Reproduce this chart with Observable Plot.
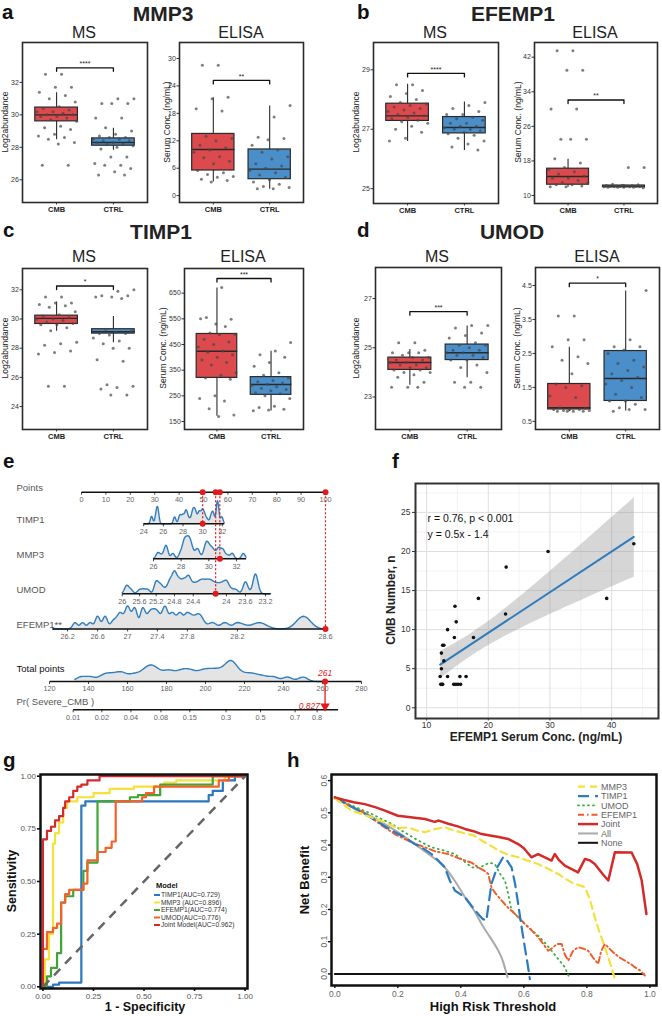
<!DOCTYPE html>
<html><head><meta charset="utf-8">
<script src="https://cdn.jsdelivr.net/npm/d3@7"></script>
<script src="https://cdn.jsdelivr.net/npm/@observablehq/plot@0.6"></script>
<style>
html,body{margin:0;padding:0;background:#fff;}
#root{position:relative;width:662px;height:1016px;overflow:hidden;background:#fff;}
#root svg{position:absolute;overflow:visible;}
</style></head><body><div id="root"></div>
<script>
const FONT = '"Liberation Sans", Arial, Helvetica, sans-serif';
const NARROW = '"Liberation Sans Narrow", "Liberation Sans", Arial, sans-serif';
const root = document.getElementById("root");

// ================= DATA =================
const groups = ["CMB", "CTRL"];
const groupColors = ["#dd4a4e", "#4b8fca"];

// box stats: [lower whisker, Q1, median, Q3, upper whisker]
const mmp3MsCMB = [32.5,32.5,31.7,31.7,31.4,31.2,31.0,30.8,30.5,30.4,30.3,30.2,30.2,30.1,30.0,30.0,29.9,29.9,29.8,29.7,29.6,29.3,29.2,29.1,28.8,28.7,28.6,28.5,28.3,28.2,26.9,26.9];
const mmp3MsCTRL = [31.0,31.0,30.7,30.7,30.7,29.8,29.8,29.2,29.0,28.8,28.7,28.6,28.6,28.5,28.5,28.4,28.4,28.3,28.3,28.2,28.2,28.1,28.0,27.9,27.4,27.4,27.0,26.9,26.9,26.7,26.5,26.3,26.3];
const mmp3MsBox = [[28.5,29.6,30.0,30.45,31.4],[27.85,28.1,28.3,28.55,29.2]];
const mmp3ElisaCMB = [28.5,28.5,21.5,21.2,19.0,18.5,13.0,12.5,12.0,11.0,10.5,10.0,9.5,8.5,8.3,7.5,7.0,5.5,5.0,4.6,4.2,4.0,3.6,3.3,3.0];
const mmp3ElisaCTRL = [19.7,17.2,12.8,12.5,12.2,11.0,10.0,9.5,8.5,8.0,7.0,6.5,6.0,5.5,5.0,4.5,4.0,3.5,3.0,2.5,2.0,1.8,1.5,1.5];
const mmp3ElisaBox = [[3.1,5.5,10.1,13.5,21.5],[1.5,3.6,5.8,10.1,19.7]];

const efempMsCMB = [28.5,28.5,28.3,28.2,28.1,28.0,27.9,27.85,27.8,27.75,27.7,27.65,27.6,27.55,27.5,27.45,27.4,27.35,27.3,27.25,27.2,27.1,27.0,26.9,26.7,26.6];
const efempMsCTRL = [27.9,27.8,27.7,27.6,27.5,27.5,27.4,27.35,27.3,27.2,27.2,27.1,27.1,27.05,27.0,27.0,26.95,26.9,26.85,26.8,26.7,26.6,26.5,26.4,26.3];
const efempMsBox = [[26.6,27.28,27.45,27.86,28.53],[26.3,26.86,27.06,27.41,27.93]];
const efempElisaCMB = [43.5,43.5,39,39,30,30,23,23,23,18.5,17.5,16.5,16,15.5,15,14.5,14,14,13.5,13,13,12.5,12.5,12.2,12,12];
const efempElisaCTRL = [16.5,16.5,12.6,12.5,12.4,12.3,12.3,12.2,12.2,12.2,12.1,12.1,12.1,12.0,12.0,12.0,12.0,11.9,11.9,11.9,11.9,11.8];
const efempElisaBox = [[12,12.5,14.4,16.2,18.5],[11.8,11.95,12.1,12.3,12.6]];

const timpMsCMB = [31.5,31.5,31.1,31.1,31.0,30.9,30.8,30.5,30.3,30.2,30.1,30.0,30.0,29.9,29.8,29.7,29.6,29.6,29.4,29.2,28.4,28.3,28.2,27.8,27.7,27.6,25.4,25.4];
const timpMsCTRL = [32.0,31.9,31.6,31.6,31.5,31.5,31.4,29.3,29.2,29.1,29.0,29.0,28.9,28.7,28.5,28.3,28.0,28.0,27.2,27.1,25.5,25.4,25.3,25.2,24.8,24.8];
const timpMsBox = [[29.2,29.66,30.04,30.23,31.2],[28.4,29.0,29.13,29.3,30.2]];
const timpElisaCMB = [672,555,548,530,550,520,495,490,488,470,460,450,440,425,420,410,400,390,380,370,340,330,320,315,250,240,230,200,175,170];
const timpElisaCTRL = [458,425,410,400,380,365,340,330,320,310,305,300,295,290,285,280,275,270,262,258,250,240,210,205,198,195,192];
const timpElisaBox = [[173,320,424,491,672],[193,254,294,323,426]];

const umodMsCMB = [25.2,25.2,24.9,24.8,24.8,24.8,24.7,24.6,24.6,24.5,24.5,24.4,24.4,24.3,24.3,24.2,24.2,24.1,24.1,24.0,24.0,23.9,23.8,23.6,23.4,23.4,23.4];
const umodMsCTRL = [25.9,25.9,25.8,25.6,25.5,25.4,25.2,25.1,25.1,25.0,24.9,24.9,24.8,24.8,24.7,24.7,24.6,24.5,24.5,24.3,24.2,24.0,23.6,23.6,23.4,23.4];
const umodMsBox = [[23.5,24.1,24.4,24.6,24.95],[23.8,24.5,24.8,25.13,25.9]];
const umodElisaCMB = [3.6,3.6,2.9,2.9,2.7,2.4,2.3,2.2,1.9,1.6,1.55,1.5,1.25,1.2,0.9,0.88,0.85,0.85,0.85,0.82,0.82,0.8,0.8,0.8,0.8];
const umodElisaCTRL = [4.35,2.9,2.7,2.7,2.6,2.5,2.3,2.2,2.1,2.0,1.9,1.8,1.7,1.6,1.5,1.3,1.2,1.1,1.1,1.0,0.9,0.85,0.85,0.8];
const umodElisaBox = [[0.8,0.85,0.9,1.6,2.7],[0.82,1.1,1.76,2.57,4.35]];

// significance: bracket height and label
const sigBracket = {mmp3Ms:32.9, mmp3Elisa:25.2, efempMs:28.88, efempElisa:32.1, timpMs:32.26, timpElisa:707, umodMs:26.47, umodElisa:4.57};
const sigStars = {mmp3Ms:"****", mmp3Elisa:"**", efempMs:"****", efempElisa:"**", timpMs:"*", timpElisa:"***", umodMs:"***", umodElisa:"*"};

// nomogram
const nomoNames = ["TIMP1", "MMP3", "UMOD", "EFEMP1**"];
const nomoTicks = [[24,26,28,30,32],[26,28,30,32],[26,25.6,25.2,24.8,24.4,24,23.6,23.2],[26.2,26.6,27,27.4,27.8,28.2,28.6]];
const nomoRange = [[24,32.2],[26,32.7],[26,23.1],[26.0,28.6]];
const nomoKnotValues = [[24,32],[26,32],[26,25.6,25.2,24.8,24.4,24,23.6,23.2],[26.2,26.6,27,27.4,27.8,28.2,28.6]];
const nomoKnotPoints = [[25.5,57.7],[29.5,63.5],[16.7,23.8,30.6,38.1,45.8,59.4,67.2,75.4],[-5.7,6.6,18.9,31.1,43.4,63.9,100]];
const nomoBandwidth = [0.12, 0.13, 0.05, 0.032];
const nomoSelected = [30, 30.8, 24.13, 28.6];
const pointsTicks = [0,10,20,30,40,50,60,70,80,90,100];
const totalTicks = [120,140,160,180,200,220,240,260,280];
const totalRefValue = 120, totalRefPoints = -13.1, totalPerUnit = 0.799;
const probTicks = [0.01,0.02,0.04,0.08,0.15,0.3,0.5,0.7,0.8];
const probRange = [0.01, 0.87];
const lpIntercept = -10.91, lpSlope = 0.0478;
const predictedProb = 0.827;
const totalPointsSample = [136,141,147,150,153,156,158,162,165,168,170,171,173,174,176,179,181,183,186,188,190,192,194,197,199,201,203,205,207,209,211,212,213,214,215,217,220,223,226,230,235,242,250];

// scatter f
const efempConc = [43.6,29.7,22.9,18.4,14.6,39.2,22.8,14.8,13.4,14.5,17.6,12.6,12.8,12.4,12.8,12.4,12.2,13.4,15.4,16.4,12.3,12.5,12.6,14.4,14.75,15.1,15.5];
const cmbNumber = [21,20,18,14,13,14,12,11,10,9,9,8,8,7,6,5,4,4,4,4,3,3,3,3,3,3,3];

// ROC g  [FPR, TPR]
const rocTIMP1 = [[0,0],[0.05,0],[0.05,0.01],[0.08,0.01],[0.08,0.02],[0.19,0.02],[0.19,0.86],[0.21,0.86],[0.21,0.88],[0.82,0.88],[0.82,0.91],[0.84,0.91],[0.84,0.93],[0.89,0.93],[0.89,0.98],[0.95,0.98],[0.95,1],[1,1]];
const rocMMP3 = [[0,0],[0.01,0],[0.01,0.13],[0.03,0.13],[0.03,0.25],[0.05,0.25],[0.05,0.68],[0.06,0.68],[0.06,0.73],[0.08,0.73],[0.08,0.78],[0.1,0.78],[0.1,0.85],[0.12,0.85],[0.12,0.88],[0.17,0.88],[0.17,0.9],[0.25,0.9],[0.25,0.92],[0.33,0.92],[0.33,0.94],[0.45,0.94],[0.45,0.95],[0.6,0.95],[0.6,0.97],[0.66,0.97],[0.66,0.98],[0.9,0.98],[0.9,1],[1,1]];
const rocEFEMP1 = [[0,0],[0.02,0],[0.02,0.05],[0.04,0.05],[0.04,0.09],[0.07,0.09],[0.07,0.16],[0.09,0.16],[0.09,0.4],[0.11,0.4],[0.11,0.43],[0.15,0.43],[0.15,0.46],[0.2,0.46],[0.2,0.55],[0.22,0.55],[0.22,0.59],[0.27,0.59],[0.27,0.88],[0.43,0.88],[0.43,0.9],[0.47,0.9],[0.47,0.91],[0.58,0.91],[0.58,0.96],[0.84,0.96],[0.84,1],[1,1]];
const rocUMOD = [[0,0],[0,0.18],[0.02,0.18],[0.02,0.26],[0.05,0.26],[0.05,0.28],[0.07,0.28],[0.07,0.3],[0.09,0.3],[0.09,0.4],[0.11,0.4],[0.11,0.44],[0.13,0.44],[0.13,0.46],[0.2,0.46],[0.2,0.49],[0.22,0.49],[0.22,0.6],[0.27,0.6],[0.27,0.64],[0.31,0.64],[0.31,0.66],[0.34,0.66],[0.34,0.69],[0.36,0.69],[0.36,0.88],[0.49,0.88],[0.49,0.9],[0.51,0.9],[0.51,0.92],[0.55,0.92],[0.55,0.95],[0.87,0.95],[0.87,0.98],[0.92,0.98],[0.92,1],[1,1]];
const rocJoint = [[0,0],[0,0.7],[0.02,0.7],[0.02,0.74],[0.04,0.74],[0.04,0.76],[0.06,0.76],[0.06,0.79],[0.08,0.79],[0.08,0.81],[0.1,0.81],[0.1,0.85],[0.11,0.85],[0.11,0.88],[0.13,0.88],[0.13,0.9],[0.15,0.9],[0.15,0.93],[0.17,0.93],[0.17,0.95],[0.19,0.95],[0.19,0.96],[0.22,0.96],[0.22,0.98],[0.28,0.98],[0.28,1],[1,1]];
const rocLabels = ["TIMP1(AUC=0.729)", "MMP3 (AUC=0.896)", "EFEMP1(AUC=0.774)", "UMOD(AUC=0.776)", "Joint Model(AUC=0.962)"];
const rocColors = ["#2b77c0", "#f3e23c", "#3fa535", "#f4622a", "#d7282b"];

// DCA h  [threshold, net benefit]
const dcaMMP3 = [[0,0.545],[0.053,0.507],[0.116,0.486],[0.16,0.47],[0.2,0.452],[0.233,0.455],[0.26,0.445],[0.286,0.44],[0.32,0.45],[0.349,0.455],[0.38,0.445],[0.413,0.436],[0.44,0.43],[0.466,0.414],[0.5,0.395],[0.519,0.383],[0.55,0.37],[0.582,0.362],[0.61,0.352],[0.645,0.341],[0.68,0.325],[0.709,0.31],[0.751,0.284],[0.794,0.269],[0.81,0.23],[0.825,0.176],[0.84,0.13],[0.857,0.083],[0.875,0.03],[0.889,-0.016]];
const dcaTIMP1 = [[0,0.548],[0.05,0.52],[0.095,0.497],[0.14,0.47],[0.18,0.445],[0.22,0.425],[0.254,0.403],[0.28,0.39],[0.307,0.372],[0.33,0.35],[0.349,0.331],[0.365,0.29],[0.381,0.259],[0.413,0.238],[0.435,0.21],[0.455,0.186],[0.47,0.17],[0.481,0.166],[0.49,0.23],[0.497,0.279],[0.515,0.33],[0.534,0.362],[0.548,0.35],[0.561,0.331],[0.572,0.28],[0.582,0.217],[0.592,0.15],[0.603,0.083],[0.612,0.03],[0.619,-0.016]];
const dcaUMOD = [[0,0.545],[0.06,0.52],[0.116,0.497],[0.15,0.48],[0.18,0.466],[0.22,0.44],[0.265,0.414],[0.307,0.393],[0.34,0.385],[0.381,0.372],[0.41,0.35],[0.434,0.331],[0.46,0.33],[0.49,0.345],[0.508,0.341],[0.525,0.31],[0.54,0.29],[0.55,0.25],[0.56,0.2],[0.572,0.186],[0.593,0.166],[0.62,0.14],[0.645,0.119],[0.668,0.095],[0.688,0.072],[0.71,0.045],[0.73,0.021],[0.746,-0.016]];
const dcaEFEMP1 = [[0,0.545],[0.05,0.52],[0.1,0.497],[0.15,0.46],[0.19,0.434],[0.24,0.41],[0.286,0.393],[0.32,0.38],[0.36,0.372],[0.39,0.36],[0.413,0.352],[0.435,0.345],[0.455,0.331],[0.475,0.32],[0.487,0.31],[0.497,0.269],[0.51,0.25],[0.529,0.228],[0.55,0.205],[0.572,0.186],[0.603,0.155],[0.625,0.135],[0.645,0.114],[0.66,0.095],[0.677,0.072],[0.69,0.08],[0.705,0.093],[0.72,0.093],[0.73,0.06],[0.741,0.041],[0.755,0.07],[0.772,0.083],[0.79,0.078],[0.804,0.072],[0.82,0.05],[0.836,0.031],[0.845,0.07],[0.857,0.093],[0.87,0.08],[0.889,0.062],[0.905,0.05],[0.921,0.041],[0.94,0.03],[0.952,0.021],[0.97,0.01],[0.984,-0.005]];
const dcaJoint = [[0,0.548],[0.03,0.54],[0.06,0.533],[0.095,0.527],[0.13,0.517],[0.159,0.507],[0.2,0.491],[0.24,0.486],[0.286,0.481],[0.317,0.472],[0.33,0.476],[0.36,0.466],[0.39,0.458],[0.413,0.45],[0.44,0.443],[0.466,0.434],[0.497,0.429],[0.52,0.425],[0.55,0.419],[0.582,0.403],[0.6,0.39],[0.624,0.362],[0.645,0.372],[0.66,0.365],[0.688,0.352],[0.698,0.372],[0.71,0.355],[0.73,0.336],[0.772,0.315],[0.794,0.357],[0.81,0.352],[0.825,0.341],[0.85,0.31],[0.868,0.29],[0.889,0.378],[0.942,0.377],[0.96,0.34],[0.974,0.29],[0.989,0.186]];
const dcaAll = [[0,0.547],[0.1,0.497],[0.2,0.44],[0.3,0.37],[0.339,0.341],[0.38,0.29],[0.413,0.238],[0.44,0.2],[0.466,0.155],[0.49,0.118],[0.519,0.072],[0.535,0.035],[0.548,-0.01]];
const dcaNone = [[0,0],[0.98,0]];
const dcaLabels = ["MMP3","TIMP1","UMOD","EFEMP1","Joint","All","None"];

// ================= HELPERS =================
function place(svg, left, top) {
  svg.style.position = "absolute";
  svg.style.left = left + "px";
  svg.style.top = top + "px";
  root.appendChild(svg);
  return svg;
}
const jitter = (i, g) => ((((i + 1) * 0.6180339887 + g * 0.37) % 1) - 0.5) * 0.74;
function axisStyle(svg, which, attrs) {
  const sel = d3.select(svg).selectAll(`g[aria-label^="${which}-axis"]`);
  if (attrs.text) sel.selectAll("text").each(function(){ for (const k in attrs.text) this.setAttribute(k, attrs.text[k]); });
  if (attrs.tick) sel.selectAll("line, path").each(function(){ for (const k in attrs.tick) this.setAttribute(k, attrs.tick[k]); });
}

function boxPlot(o) {
  const mL = 26, mB = 16, mR = 2, mT = 2;
  const rows = o.box.map((b, i) => ({x: i + 1, lo: b[0], q1: b[1], med: b[2], q3: b[3], hi: b[4], fill: groupColors[i]}));
  const pts = [];
  [o.cmb, o.ctrl].forEach((arr, g) => arr.forEach((v, i) => pts.push({x: g + 1 + jitter(i, g), v})));
  const leg = (o.yDomain[1] - o.yDomain[0]) * 0.022;
  const br = [{x: 1, y: o.bracket - leg}, {x: 1, y: o.bracket}, {x: 2, y: o.bracket}, {x: 2, y: o.bracket - leg}];
  const svg = Plot.plot({
    width: mL + o.w + mR, height: mT + o.h + mB,
    marginLeft: mL, marginRight: mR, marginTop: mT, marginBottom: mB,
    style: {fontFamily: FONT, fontSize: "7px", color: "#333", background: "transparent", overflow: "visible"},
    x: {domain: [0.4, 2.6], ticks: [1, 2], tickFormat: d => groups[d - 1], tickSize: 2.5, tickPadding: 2, label: null},
    y: {domain: o.yDomain, ticks: o.yTicks, tickFormat: d => String(d), tickSize: 2.5, tickPadding: 1.2, label: null},
    color: {type: "identity"},
    marks: [
      Plot.link(rows, {x1: "x", x2: "x", y1: "lo", y2: "hi", stroke: "#2a2a2a", strokeWidth: 1.1}),
      Plot.rect(rows, {x1: d => d.x - 0.375, x2: d => d.x + 0.375, y1: "q1", y2: "q3", fill: "fill", stroke: "#2a2a2a", strokeWidth: 1.2}),
      Plot.link(rows, {x1: d => d.x - 0.375, x2: d => d.x + 0.375, y1: "med", y2: "med", stroke: "#2a2a2a", strokeWidth: 1.4}),
      Plot.dot(pts, {x: "x", y: "v", r: 1.5, fill: "#474747", fillOpacity: 0.7}),
      Plot.line(br, {x: "x", y: "y", stroke: "#111", strokeWidth: 1.3}),
      Plot.text([o.stars], {x: () => 1.5, y: () => o.bracket, text: d => d, dy: -4, fontSize: 7, fill: "#222"}),
      Plot.frame({stroke: "#2a2a2a", strokeWidth: 1.6})
    ]
  });
  axisStyle(svg, "x", {text: {"font-weight": "bold", "fill": "#222", "font-size": "7.5px"}});
  place(svg, o.left - mL, o.top - mT);
}

// ================= PANELS a–d =================
boxPlot({left: 22, top: 42, w: 125, h: 160, yDomain: [24.6, 34.46], yTicks: [26,28,30,32], box: mmp3MsBox, cmb: mmp3MsCMB, ctrl: mmp3MsCTRL, bracket: sigBracket.mmp3Ms, stars: sigStars.mmp3Ms});
boxPlot({left: 179, top: 42, w: 124, h: 160, yDomain: [-1.5, 33.5], yTicks: [0,6,12,18,24,30], box: mmp3ElisaBox, cmb: mmp3ElisaCMB, ctrl: mmp3ElisaCTRL, bracket: sigBracket.mmp3Elisa, stars: sigStars.mmp3Elisa});
boxPlot({left: 373, top: 42, w: 125, h: 161, yDomain: [24.5, 29.92], yTicks: [25,27,29], box: efempMsBox, cmb: efempMsCMB, ctrl: efempMsCTRL, bracket: sigBracket.efempMs, stars: sigStars.efempMs});
boxPlot({left: 534, top: 42, w: 123, h: 161, yDomain: [8.15, 45.4], yTicks: [10,18,26,34,42], box: efempElisaBox, cmb: efempElisaCMB, ctrl: efempElisaCTRL, bracket: sigBracket.efempElisa, stars: sigStars.efempElisa});
boxPlot({left: 22, top: 268, w: 125, h: 161, yDomain: [22.43, 33.46], yTicks: [24,26,28,30,32], box: timpMsBox, cmb: timpMsCMB, ctrl: timpMsCTRL, bracket: sigBracket.timpMs, stars: sigStars.timpMs});
boxPlot({left: 184, top: 268, w: 119, h: 161, yDomain: [119, 746], yTicks: [150,250,350,450,550,650], box: timpElisaBox, cmb: timpElisaCMB, ctrl: timpElisaCTRL, bracket: sigBracket.timpElisa, stars: sigStars.timpElisa});
boxPlot({left: 375, top: 267, w: 126, h: 162, yDomain: [21.68, 28.26], yTicks: [23,25,27], box: umodMsBox, cmb: umodMsCMB, ctrl: umodMsCTRL, bracket: sigBracket.umodMs, stars: sigStars.umodMs});
boxPlot({left: 535, top: 267, w: 124, h: 162, yDomain: [0.26, 5.03], yTicks: [0.5,1.5,2.5,3.5,4.5], box: umodElisaBox, cmb: umodElisaCMB, ctrl: umodElisaCTRL, bracket: sigBracket.umodElisa, stars: sigStars.umodElisa});

// ================= PANEL e: nomogram =================
(function(){
  const rowPoints = 21.7, rowVars = [53.3, 88.3, 123.3, 158.5], rowTotal = 211, rowProb = 239.3;
  const varScales = nomoKnotValues.map((v, k) => d3.scaleLinear().domain(v).range(nomoKnotPoints[k]));
  const varPts = (k, v) => varScales[k](v);
  const totPts = t => totalRefPoints + (t - totalRefValue) * totalPerUnit;
  const logit = p => Math.log(p / (1 - p));
  const probTotal = p => (logit(p) - lpIntercept) / lpSlope;
  const kde = (vals, bw, lo, hi) => d3.range(241).map(k => {
    const x = lo + (hi - lo) * k / 240;
    return [x, d3.sum(vals, v => Math.exp(-0.5 * ((x - v) / bw) ** 2))];
  });
  const msSamples = [timpMsCMB.concat(timpMsCTRL), mmp3MsCMB.concat(mmp3MsCTRL), umodMsCMB.concat(umodMsCTRL), efempMsCMB.concat(efempMsCTRL)];

  const axes = [], ticks = [], dens = [], labels = [];
  labels.push({y: rowPoints - 4, text: "Points", style: "italic", weight: "normal", fill: "#555"});
  axes.push({x1: 0, x2: 100, y: rowPoints});
  pointsTicks.forEach(t => ticks.push({p: t, y: rowPoints, label: String(t)}));
  nomoNames.forEach((n, k) => {
    const y = rowVars[k];
    labels.push({y: y - 4, text: n, style: "normal", weight: "normal", fill: "#555"});
    axes.push({x1: varPts(k, nomoRange[k][0]), x2: varPts(k, nomoRange[k][1]), y});
    nomoTicks[k].forEach(t => ticks.push({p: varPts(k, t), y, label: String(t)}));
    const lo = Math.min(...nomoRange[k]), hi = Math.max(...nomoRange[k]);
    const d = kde(msSamples[k], nomoBandwidth[k], lo, hi);
    const mx = d3.max(d, e => e[1]);
    d.forEach(e => dens.push({row: n, p: varPts(k, e[0]), y0: y, y1: y - 23 * e[1] / mx}));
  });
  labels.push({y: rowTotal - 13, text: "Total points", style: "italic", weight: "bold", fill: "#111"});
  axes.push({x1: totPts(totalTicks[0]), x2: totPts(totalTicks[totalTicks.length - 1]), y: rowTotal});
  totalTicks.forEach(t => ticks.push({p: totPts(t), y: rowTotal, label: String(t)}));
  {
    const d = kde(totalPointsSample, 2.4, 133, 262);
    const mx = d3.max(d, e => e[1]);
    d.forEach(e => dens.push({row: "total", p: totPts(e[0]), y0: rowTotal, y1: rowTotal - 21 * e[1] / mx}));
  }
  labels.push({y: rowProb - 7.5, text: "Pr( Severe_CMB )", style: "italic", weight: "normal", fill: "#555"});
  axes.push({x1: totPts(probTotal(probRange[0])), x2: totPts(probTotal(probRange[1])), y: rowProb});
  probTicks.forEach(t => ticks.push({p: totPts(probTotal(t)), y: rowProb, label: String(t)}));

  const selPts = nomoSelected.map((v, k) => varPts(k, v));
  const total = d3.sum(selPts);
  const redPts = selPts.map(p => ({p, y: rowPoints}));
  const redVar = nomoSelected.map((v, k) => ({p: varPts(k, v), y: rowVars[k]}));
  const drops = nomoSelected.map((v, k) => ({p: varPts(k, v), y1: rowPoints, y2: rowVars[k]}));
  const tp = totPts(total);

  const svg = Plot.plot({
    width: 362, height: 260, marginLeft: 81, marginRight: 37, marginTop: 0, marginBottom: 0,
    style: {fontFamily: FONT, background: "transparent", overflow: "visible"},
    x: {domain: [0, 100], axis: null},
    y: {domain: [0, 260], range: [0, 260], axis: null},
    marks: [
      Plot.areaY(dens, {x: "p", y1: "y0", y2: "y1", z: "row", fill: "#e4e4e4"}),
      Plot.line(dens, {x: "p", y: "y1", z: "row", stroke: "#2f7fc0", strokeWidth: 1.4}),
      Plot.link(axes, {x1: "x1", x2: "x2", y1: "y", y2: "y", stroke: "#111", strokeWidth: 1.6}),
      Plot.link(ticks, {x1: "p", x2: "p", y1: "y", y2: d => d.y + 2.5, stroke: "#111", strokeWidth: 0.8}),
      Plot.text(ticks, {x: "p", y: "y", dy: 7.5, text: "label", fontSize: 7.3, fontFamily: NARROW, fill: "#666"}),
      Plot.text(labels, {frameAnchor: "left", dx: -65, y: "y", text: "text", textAnchor: "start", fontSize: 9.5, fontStyle: d => d.style, fontWeight: d => d.weight, fill: d => d.fill}),
      Plot.link(drops, {x1: "p", x2: "p", y1: "y1", y2: "y2", stroke: "#e31a1c", strokeWidth: 1.2, strokeDasharray: "2,2"}),
      Plot.dot(redPts, {x: "p", y: "y", r: 3, fill: "#e31a1c"}),
      Plot.dot(redVar, {x: "p", y: "y", r: 3, fill: "#e31a1c"}),
      Plot.link([tp], {x1: d => d, x2: d => d, y1: () => rowTotal, y2: () => rowProb - 4, stroke: "#e31a1c", strokeWidth: 1.3}),
      Plot.dot([tp], {x: d => d, y: () => rowTotal, r: 3, fill: "#e31a1c"}),
      Plot.dot([tp], {x: d => d, y: () => rowProb - 3.5, r: 3.5, symbol: "triangle", rotate: 180, fill: "#e31a1c"}),
      Plot.text([tp], {x: d => d, y: () => rowTotal, dy: -8, text: () => String(Math.round(total)), fill: "#e31a1c", fontSize: 8.5, fontStyle: "italic"}),
      Plot.text([tp], {x: d => d, y: () => rowProb - 4, dx: -5, text: () => String(predictedProb), textAnchor: "end", fill: "#e31a1c", fontSize: 8.5, fontStyle: "italic"})
    ]
  });
  place(svg, 0, 470);
})();

// ================= PANEL f: scatter =================
(function(){
  const mL = 30, mB = 30, mR = 4;
  const pts = efempConc.map((x, i) => ({x, y: cmbNumber[i]}));
  const svg = Plot.plot({
    width: mL + 243 + mR, height: 235 + mB, marginLeft: mL, marginRight: mR, marginTop: 0, marginBottom: mB,
    style: {fontFamily: FONT, fontSize: "8.5px", color: "#333", background: "transparent", overflow: "visible"},
    x: {domain: [8.2, 47.6], ticks: [10,20,30,40], tickSize: 2.5, tickPadding: 1, label: null},
    y: {domain: [-1.37, 28.7], ticks: [0,5,10,15,20,25], tickSize: 3, tickPadding: 2, label: null},
    marks: [
      Plot.ruleX([15,25,35,45], {stroke: "#f0f0f0", strokeWidth: 0.8}),
      Plot.ruleY([2.5,7.5,12.5,17.5,22.5,27.5], {stroke: "#f0f0f0", strokeWidth: 0.8}),
      Plot.ruleX([10,20,30,40], {stroke: "#dedede", strokeWidth: 1}),
      Plot.ruleY([0,5,10,15,20,25], {stroke: "#dedede", strokeWidth: 1}),
      Plot.linearRegressionY(pts, {x: "x", y: "y", stroke: "#2e7cbd", strokeWidth: 2, fill: "#999", fillOpacity: 0.4, ci: 0.95}),
      Plot.dot(pts, {x: "x", y: "y", r: 1.8, fill: "#111"}),
      Plot.text(["r = 0.76, p < 0.001"], {frameAnchor: "top-left", dx: 12, dy: 31, text: d => d, textAnchor: "start", fontSize: 10.5, fill: "#111"}),
      Plot.text(["y = 0.5x - 1.4"], {frameAnchor: "top-left", dx: 12, dy: 47, text: d => d, textAnchor: "start", fontSize: 10.5, fill: "#111"}),
      Plot.frame({stroke: "#333", strokeWidth: 2})
    ]
  });
  place(svg, 415 - mL, 483);
})();

// ================= PANEL g: ROC =================
(function(){
  const mL = 24, mB = 16, mR = 4;
  const curves = [rocTIMP1, rocMMP3, rocEFEMP1, rocUMOD, rocJoint];
  const svg = Plot.plot({
    width: mL + 207 + mR, height: 214 + mB, marginLeft: mL, marginRight: mR, marginTop: 0, marginBottom: mB,
    style: {fontFamily: FONT, fontSize: "8px", color: "#111", background: "transparent", overflow: "visible"},
    x: {domain: [-0.012, 1.012], ticks: [0,0.25,0.5,0.75,1], tickFormat: ".2f", tickSize: 3, tickPadding: 2, label: null},
    y: {domain: [-0.008, 1.008], ticks: [0,0.25,0.5,0.75,1], tickFormat: ".2f", tickSize: 3, tickPadding: 1.5, label: null},
    marks: [
      ...curves.map((c, i) => Plot.line(c, {x: d => d[0], y: d => d[1], stroke: rocColors[i], strokeWidth: 2.2})),
      Plot.link([1], {x1: () => 0, y1: () => 0, x2: () => 1, y2: () => 1, stroke: "#666", strokeWidth: 2.5, strokeDasharray: "9,7"}),
      Plot.frame({stroke: "#111", strokeWidth: 2.5})
    ]
  });
  axisStyle(svg, "x", {text: {fill: "#555"}, tick: {"stroke-width": 1.6}});
  axisStyle(svg, "y", {text: {fill: "#555"}, tick: {"stroke-width": 1.6}});
  place(svg, 40 - mL, 774);
})();

// ================= PANEL h: DCA =================
(function(){
  const mL = 26, mB = 16, mR = 4;
  const svg = Plot.plot({
    width: mL + 325 + mR, height: 211 + mB, marginLeft: mL, marginRight: mR, marginTop: 0, marginBottom: mB,
    style: {fontFamily: FONT, fontSize: "8.5px", color: "#111", background: "transparent", overflow: "visible"},
    x: {domain: [-0.0106, 1.021], ticks: [0,0.2,0.4,0.6,0.8,1], tickFormat: ".1f", tickSize: 3, tickPadding: 2, label: null},
    y: {domain: [-0.036, 0.619], ticks: [0,0.1,0.2,0.3,0.4,0.5,0.6], tickFormat: ".1f", tickSize: 3, tickPadding: 2, tickRotate: -90, label: null},
    marks: [
      Plot.line(dcaNone, {x: d => d[0], y: d => d[1], stroke: "#111", strokeWidth: 2}),
      Plot.line(dcaAll, {x: d => d[0], y: d => d[1], stroke: "#aaaaaa", strokeWidth: 2, curve: "natural"}),
      Plot.line(dcaUMOD, {x: d => d[0], y: d => d[1], stroke: "#3cae3c", strokeWidth: 1.8, strokeDasharray: "1,4", strokeLinecap: "round"}),
      Plot.line(dcaEFEMP1, {x: d => d[0], y: d => d[1], stroke: "#f15a29", strokeWidth: 1.9, strokeDasharray: "6,3,1.5,3"}),
      Plot.line(dcaTIMP1, {x: d => d[0], y: d => d[1], stroke: "#2b7bbf", strokeWidth: 2.2, strokeDasharray: "11,6"}),
      Plot.line(dcaMMP3, {x: d => d[0], y: d => d[1], stroke: "#f3e03b", strokeWidth: 2.2, strokeDasharray: "7,5"}),
      Plot.line(dcaJoint, {x: d => d[0], y: d => d[1], stroke: "#d42a2a", strokeWidth: 2.5}),
      Plot.frame({stroke: "#111", strokeWidth: 2.5})
    ]
  });
  axisStyle(svg, "x", {text: {fill: "#666"}, tick: {"stroke-width": 1.4}});
  axisStyle(svg, "y", {text: {fill: "#666"}, tick: {"stroke-width": 1.4}});
  place(svg, 331 - mL, 774);
})();

// ================= overlay texts & legends =================
const ov = d3.create("svg").attr("width", 662).attr("height", 1016)
  .style("position", "absolute").style("left", "0px").style("top", "0px").style("pointer-events", "none")
  .attr("font-family", FONT);
function T(x, y, s, o = {}) {
  const t = ov.append("text").text(s)
    .attr("font-size", o.size || 10).attr("font-weight", o.weight || "normal")
    .attr("font-style", o.style || "normal").attr("fill", o.fill || "#111")
    .attr("text-anchor", o.anchor || "start");
  if (o.rotate) t.attr("transform", `translate(${x},${y}) rotate(${o.rotate})`).attr("x", 0).attr("y", 0).attr("dy", "0.35em");
  else t.attr("x", x).attr("y", y);
  return t;
}
// panel letters
[["a",2,19],["b",357,19],["c",3,237],["d",357,237],["e",3,468],["f",392,468],["g",3,767],["h",287,767]]
  .forEach(([s,x,y]) => T(x, y, s, {size: 20.5, weight: "bold"}));
// titles
[["MMP3",163,21],["EFEMP1",513,21],["TIMP1",161,239],["UMOD",512,239]]
  .forEach(([s,x,y]) => T(x, y, s, {size: 21, weight: "bold", anchor: "middle", fill: "#222"}));
[["MS",84,38],["ELISA",241,38],["MS",435,38],["ELISA",595,38],["MS",84,262],["ELISA",243,262],["MS",437,262],["ELISA",597,262]]
  .forEach(([s,x,y]) => T(x, y, s, {size: 16, anchor: "middle", fill: "#222"}));
// y titles boxplots
[["Log2abundance",5.5,122],["Serum Conc. (ng/mL)",167,122],["Log2abundance",356,122],["Serum Conc. (ng/mL)",518,122],
 ["Log2abundance",5.5,348],["Serum Conc. (ng/mL)",163,348],["Log2abundance",356,348],["Serum Conc. (ng/mL)",517,348]]
  .forEach(([s,x,y]) => T(x, y, s, {size: 8.5, anchor: "middle", rotate: -90, fill: "#222"}));
// f titles
T(536, 741, "EFEMP1 Serum Conc. (ng/mL)", {size: 12, weight: "bold", anchor: "middle", fill: "#222"});
T(391, 600, "CMB Number, n", {size: 12, weight: "bold", anchor: "middle", rotate: -90, fill: "#222"});
// g titles & legend
T(145, 1011, "1 - Specificity", {size: 12.5, weight: "bold", anchor: "middle"});
T(12, 881, "Sensitivity", {size: 12.5, weight: "bold", anchor: "middle", rotate: -90});
T(156, 888, "Model", {size: 7.5, weight: "bold"});
rocLabels.forEach((s, i) => {
  const y = 895 + i * 7.5;
  ov.append("line").attr("x1", 154).attr("x2", 160).attr("y1", y).attr("y2", y).attr("stroke", rocColors[i]).attr("stroke-width", 2);
  T(161, y + 2.4, s, {size: 6.7, fill: "#333"});
});
// h titles & legend
T(493, 1011, "High Risk Threshold", {size: 13, weight: "bold", anchor: "middle"});
T(304, 880, "Net Benefit", {size: 13, weight: "bold", anchor: "middle", rotate: -90});
const dcaLeg = [["#f3e03b","7,5",2.2],["#2b7bbf","11,6",2.2],["#3cae3c","1,4",1.8],["#f15a29","6,3,1.5,3",1.9],["#d42a2a",null,2.5],["#aaaaaa",null,2],["#111",null,2]];
dcaLabels.forEach((s, i) => {
  const y = 786.7 + i * 9.35;
  const l = ov.append("line").attr("x1", 578).attr("x2", 598).attr("y1", y).attr("y2", y)
    .attr("stroke", dcaLeg[i][0]).attr("stroke-width", dcaLeg[i][2]);
  if (dcaLeg[i][1]) l.attr("stroke-dasharray", dcaLeg[i][1]).attr("stroke-linecap", i === 2 ? "round" : "butt");
  T(601, y + 3.2, s, {size: 9, fill: "#666"});
});
root.appendChild(ov.node());
</script></body></html>
